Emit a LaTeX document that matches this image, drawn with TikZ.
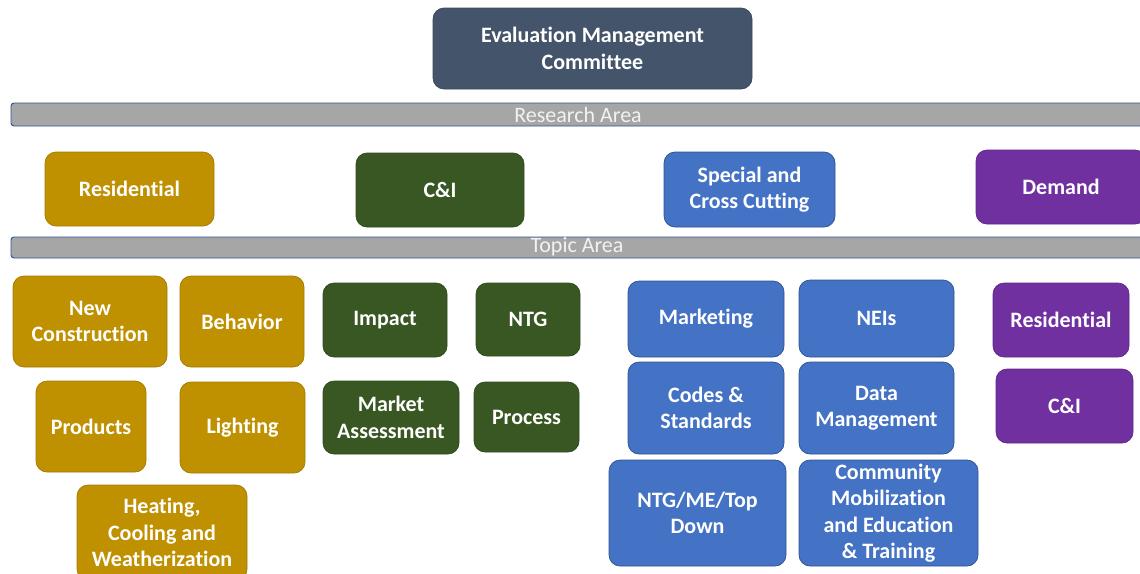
\documentclass[tikz,border=0pt]{standalone}
\usepackage{fontspec}
\setmainfont{Carlito}[Ligatures=NoCommon]
\definecolor{emcblue}{HTML}{44546A}
\definecolor{gold}{HTML}{BF9000}
\definecolor{forest}{HTML}{385723}
\definecolor{azure}{HTML}{4472C4}
\definecolor{azureline}{HTML}{2F528F}
\definecolor{plum}{HTML}{7030A0}
\definecolor{bargray}{HTML}{A6A6A6}
\begin{document}
\begin{tikzpicture}[x=1pt,y=-1pt,
  box/.style={rectangle, rounded corners=11pt, fill=#1, draw=#1!85!black, line width=0.7pt,
    text=white, align=center, inner sep=0pt, outer sep=0pt,
    font=\fontsize{22}{26.5}\selectfont\bfseries},
  bar/.style={rectangle, rounded corners=3pt, fill=bargray, draw=azureline, line width=0.9pt,
    inner sep=0pt, outer sep=0pt},
  barlabel/.style={text=white!95!black, inner sep=0pt, font=\fontsize{22}{26}\selectfont}
]
\useasboundingbox (0,0) rectangle (1140,573);
\clip (0,0) rectangle (1140,573);

% committee at the top
\node[box=emcblue, minimum width=319pt, minimum height=81pt] (emc) at (592.5,48.5)
  {Evaluation Management\\Committee};

% research area band
\node[bar, minimum width=1141pt, minimum height=23pt] (rbar) at (581.5,114.5) {};
\node[barlabel] (rlab) at (578,115) {Research Area};

% research areas
\node[box=gold, minimum width=169pt, minimum height=74pt] (res) at (129.5,189) {Residential};
\node[box=forest, minimum width=168pt, minimum height=74pt] (ci) at (440,190) {C\&I};
\node[box=azure, draw=azureline, minimum width=171pt, minimum height=75pt] (spec) at (749.5,189.5)
  {Special and\\Cross Cutting};
\node[box=plum, minimum width=170pt, minimum height=74pt] (dem) at (1061,187) {Demand};

% topic area band
\node[bar, minimum width=1141pt, minimum height=21pt] (tbar) at (581.5,247.5) {};
\node[barlabel] (tlab) at (577,247) {Topic Area};

% residential topics
\node[box=gold, minimum width=154pt, minimum height=91pt] (newc) at (90,321.5) {New\\Construction};
\node[box=gold, minimum width=124pt, minimum height=91pt] (beh) at (242,321.5) {Behavior};
\node[box=gold, minimum width=110pt, minimum height=91pt] (prod) at (91,426.5) {Products};
\node[box=gold, minimum width=125pt, minimum height=91pt] (light) at (242.5,427.5) {Lighting};
\node[box=gold, minimum width=170pt, minimum height=95pt] (heat) at (162,532.5)
  {Heating,\\Cooling and\\Weatherization};

% C&I topics
\node[box=forest, minimum width=124pt, minimum height=74pt] (imp) at (385,320) {Impact};
\node[box=forest, minimum width=104pt, minimum height=73pt] (ntg) at (528,319.5) {NTG};
\node[box=forest, minimum width=136pt, minimum height=73pt] (mkt) at (391,417.5) {Market\\Assessment};
\node[box=forest, minimum width=105pt, minimum height=70pt] (proc) at (526.5,417) {Process};

% special and cross cutting topics
\node[box=azure, draw=azureline, minimum width=156pt, minimum height=76pt] (mkting) at (706,319) {Marketing};
\node[box=azure, draw=azureline, minimum width=155pt, minimum height=77pt] (neis) at (876.5,318.5) {NEIs};
\node[box=azure, draw=azureline, minimum width=156pt, minimum height=92pt] (codes) at (706,408) {Codes \&\\Standards};
\node[box=azure, draw=azureline, minimum width=155pt, minimum height=92pt] (data) at (876.5,408) {Data\\Management};
\node[box=azure, draw=azureline, minimum width=177pt, minimum height=106pt] (ntgme) at (697.5,513) {NTG/ME/Top\\Down};
\node[box=azure, draw=azureline, minimum width=179pt, minimum height=106pt] (comm) at (888.5,513)
  {Community\\Mobilization\\and Education\\\& Training};

% demand topics
\node[box=plum, minimum width=136pt, minimum height=74pt] (dres) at (1061,320) {Residential};
\node[box=plum, minimum width=137pt, minimum height=74pt] (dci) at (1064.5,406) {C\&I};
\end{tikzpicture}
\end{document}
